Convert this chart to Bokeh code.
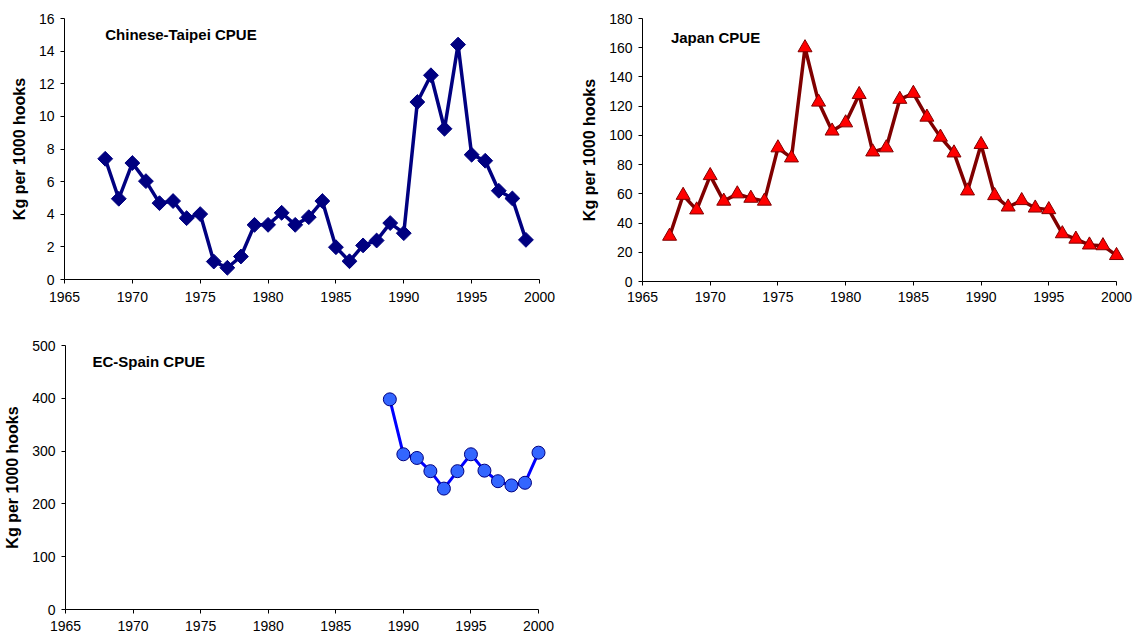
from bokeh.plotting import figure
from bokeh.layouts import column, row
from bokeh.models import Label, FixedTicker
from bokeh.embed import file_html
from bokeh.resources import INLINE
import math

# ---------------- data ----------------
taipei_years = list(range(1968, 2000))
taipei_cpue = [7.40, 4.95, 7.14, 6.03, 4.68, 4.81, 3.76, 4.01, 1.10, 0.72,
               1.41, 3.35, 3.35, 4.09, 3.35, 3.82, 4.81, 1.98, 1.12, 2.09,
               2.39, 3.46, 2.84, 10.88, 12.52, 9.24, 14.40, 7.65, 7.28, 5.44,
               4.97, 2.43]

japan_years = list(range(1967, 2001))
japan_cpue = [31, 59, 49, 72.5, 55, 60, 57, 55, 91.5, 84.6,
              160, 122.8, 103, 108.6, 128, 88.7, 91.5, 124.7, 128.8, 112.5,
              98.8, 88, 62, 93.8, 58.8, 51, 55.4, 50.3, 49.2, 32.7,
              29, 25, 24.5, 17.8]

spain_years = list(range(1989, 2001))
spain_cpue = [398, 294, 287, 262, 229, 262, 294, 263, 243, 235, 240, 297]

x_ticks = [1965, 1970, 1975, 1980, 1985, 1990, 1995, 2000]
taipei_yticks = [0, 2, 4, 6, 8, 10, 12, 14, 16]
japan_yticks = [0, 20, 40, 60, 80, 100, 120, 140, 160, 180]
spain_yticks = [0, 100, 200, 300, 400, 500]

FONT = "Liberation Sans"
YLABEL = "Kg per 1000 hooks"


def make_fig(fw, fh, ymax, yticks, mbl, mbt, mbr, mbb, xstand):
    p = figure(frame_width=fw, frame_height=fh,
               x_range=(1965, 2000), y_range=(0, ymax),
               output_backend="svg", toolbar_location=None,
               min_border_left=mbl, min_border_top=mbt,
               min_border_right=mbr, min_border_bottom=mbb)
    p.outline_line_color = None
    p.background_fill_color = "white"
    p.border_fill_color = "white"
    p.xgrid.visible = False
    p.ygrid.visible = False
    p.xaxis.ticker = FixedTicker(ticks=x_ticks)
    p.yaxis.ticker = FixedTicker(ticks=yticks)
    for ax in (p.xaxis, p.yaxis):
        ax.axis_line_color = "black"
        ax.axis_line_width = 1
        ax.major_tick_line_color = "black"
        ax.major_tick_out = 4
        ax.major_tick_in = 0
        ax.minor_tick_line_color = None
        ax.major_label_text_font = FONT
        ax.major_label_text_font_size = "14px"
        ax.major_label_text_color = "black"
    p.xaxis.major_label_standoff = xstand
    p.yaxis.major_label_standoff = 6
    p.yaxis.axis_label = YLABEL
    p.yaxis.axis_label_text_font = FONT
    p.yaxis.axis_label_text_font_style = "bold"
    p.yaxis.axis_label_text_font_size = "16px"
    p.yaxis.axis_label_text_color = "black"
    p.yaxis.axis_label_standoff = 8
    return p


def add_title(p, text, x, y):
    p.add_layout(Label(x=x, y=y, text=text, text_font=FONT,
                       text_font_style="bold", text_font_size="15px",
                       text_align="left", text_baseline="middle",
                       text_color="black"))


# Chinese-Taipei
p1 = make_fig(475, 261, 16, taipei_yticks, 64, 14, 31, 45, 8)
p1.line(taipei_years, taipei_cpue, line_color="#000080", line_width=3.5,
        level="overlay")
p1.scatter(taipei_years, taipei_cpue, marker="square", size=10.5,
           angle=math.pi / 4, fill_color="#000080", line_color="#000080",
           level="overlay")
add_title(p1, "Chinese-Taipei CPUE", 1968.0, 15.0)

# Japan
p2 = make_fig(474, 263, 180, japan_yticks, 72, 18, 20, 39, 6)
p2.line(japan_years, japan_cpue, line_color="#800000", line_width=3.5,
        level="overlay")
p2.scatter(japan_years, japan_cpue, marker="triangle", size=14,
           fill_color="#FF0000", line_color="#800000", line_width=1,
           level="overlay")
add_title(p2, "Japan CPUE", 1967.1, 167)

# EC-Spain
p3 = make_fig(473, 264, 500, spain_yticks, 65, 25, 29, 27, 7)
p3.line(spain_years, spain_cpue, line_color="#0000FF", line_width=3,
        level="overlay")
p3.scatter(spain_years, spain_cpue, marker="circle", size=13,
           fill_color="#3366FF", line_color="#000080", line_width=1,
           level="overlay")
add_title(p3, "EC-Spain CPUE", 1967.0, 470)

layout = column(row(p1, p2), p3)

open("out.html", "w").write(file_html(layout, INLINE))
